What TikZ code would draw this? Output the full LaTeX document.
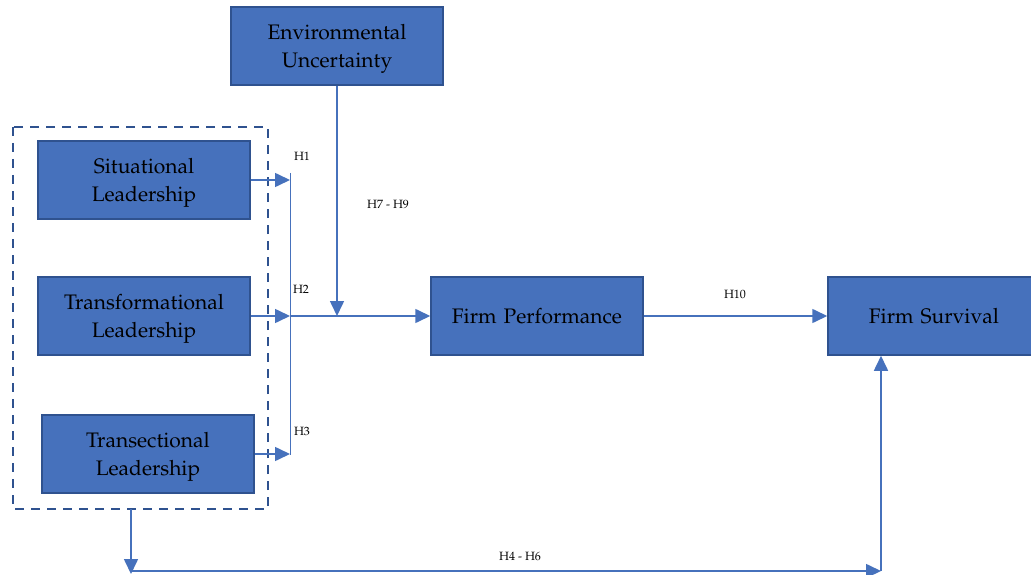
\documentclass[tikz,border=0pt]{standalone}
\usepackage[T1]{fontenc}
\usepackage{mathpazo}
\usetikzlibrary{arrows.meta,positioning}
\definecolor{boxblue}{HTML}{4671BC}
\definecolor{edgeblue}{HTML}{2F528F}

\begin{document}
\begin{tikzpicture}[x=1pt,y=-1pt,
    block/.style={draw=edgeblue,fill=boxblue,line width=1.5pt,rectangle,
      minimum width=212pt,minimum height=78pt,text centered,text width=205pt,
      inner sep=0pt,font=\fontsize{21}{28}\selectfont},
    twoline/.style={execute at begin node={\rule{0pt}{21pt}}},
    link/.style={draw=boxblue,line width=1.6pt,-{Triangle[length=15pt,width=14pt]}},
    hyp/.style={font=\fontsize{12}{14}\selectfont}]
    \useasboundingbox (0,0) rectangle (1031,575);
    % boxes
    \node[block,twoline] (envunc) at (337,46) {Environmental\\Uncertainty};
    \node[block,twoline] (sitlead) at (144,180) {Situational\\Leadership};
    \node[block,twoline] (translead) at (144,316) {Transformational\\Leadership};
    \node[block,twoline] (tsclead) at (148,454) {Transectional\\Leadership};
    \node[block] (firmperf) at (537,316) {Firm Performance};
    \node[block] (firmsurv) at (934,316) {Firm Survival};
    \draw[edgeblue,line width=2.5pt,dash pattern=on 9pt off 7pt]
        (13,127) rectangle (268,509);
    % joints
    \coordinate (top) at (290,173);
    \coordinate (bot) at (290,455);
    \coordinate (hub) at (290,316);
    \coordinate (meet) at (337,316);
    \coordinate (drop) at (131,509);
    \coordinate (corner) at (131,571);
    \coordinate (turn) at (881,571);
    \draw[boxblue,line width=1pt] (top) -- (bot);
    \draw[link] (sitlead.east) -- (sitlead.east -| hub);
    \draw[link] (translead.east) -- (hub);
    \draw[link] (tsclead.east) -- (tsclead.east -| hub);
    \draw[link] (hub) -- (firmperf.west);
    \draw[link] (envunc.south) -- (meet);
    \draw[link] (firmperf.east) -- (firmsurv.west);
    \draw[link] (drop) -- ([yshift=-3pt]corner);
    \draw[link] (corner) -- (turn);
    \draw[link] (turn) -- (turn |- firmsurv.south);
    % hypotheses
    \node[hyp] (h1) at (302,156) {H1};
    \node[hyp] (h2) at (301,289) {H2};
    \node[hyp] (h3) at (302,431) {H3};
    \node[hyp] (h79) at (388,204) {H7 - H9};
    \node[hyp] (h10) at (735,294) {H10};
    \node[hyp] (h46) at (520,556) {H4 - H6};
\end{tikzpicture}
\end{document}
